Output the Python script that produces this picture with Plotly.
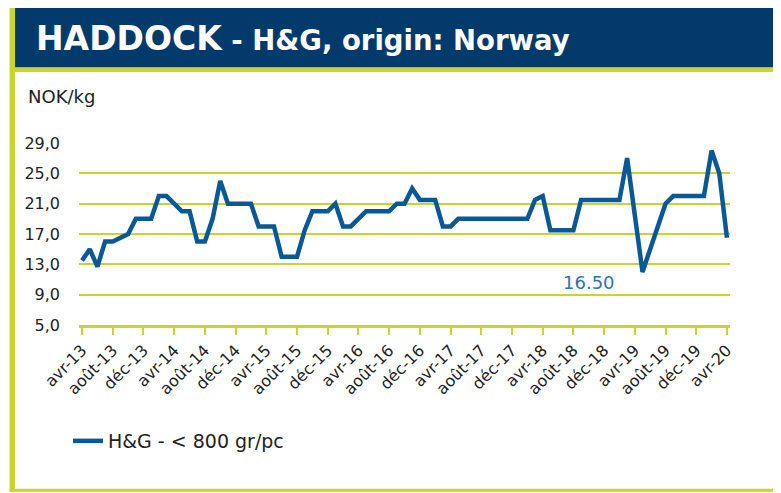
import plotly.graph_objects as go

# ---------------- data ----------------
MONTH_NAMES = ["janv", "févr", "mars", "avr", "mai", "juin",
               "juil", "août", "sept", "oct", "nov", "déc"]
START_MONTH = 3   # avr (index in MONTH_NAMES)
START_YEAR = 13
N_MONTHS = 85     # avr-13 .. avr-20

months = []
for i in range(N_MONTHS):
    mi = (START_MONTH + i) % 12
    yr = START_YEAR + (START_MONTH + i) // 12
    months.append(f"{MONTH_NAMES[mi]}-{yr:02d}")

price_hg = [
    13.5, 15.0, 12.7, 16.0, 16.0, 16.5, 17.0, 19.0, 19.0, 19.0,   # avr-13 .. janv-14
    22.0, 22.0, 21.0, 20.0, 20.0, 16.0, 16.0, 19.0, 24.0, 21.0,   # févr-14 .. nov-14
    21.0, 21.0, 21.0, 18.0, 18.0, 18.0, 14.0, 14.0, 14.0, 17.5,   # déc-14 .. sept-15
    20.0, 20.0, 20.0, 21.0, 18.0, 18.0, 19.0, 20.0, 20.0, 20.0,   # oct-15 .. juil-16
    20.0, 21.0, 21.0, 23.0, 21.5, 21.5, 21.5, 18.0, 18.0, 19.0,   # août-16 .. mai-17
    19.0, 19.0, 19.0, 19.0, 19.0, 19.0, 19.0, 19.0, 19.0, 21.5,   # juin-17 .. mars-18
    22.0, 17.5, 17.5, 17.5, 17.5, 21.5, 21.5, 21.5, 21.5, 21.5,   # avr-18 .. janv-19
    21.5, 27.0, 20.0, 12.0, 15.0, 18.0, 21.0, 22.0, 22.0, 22.0,   # févr-19 .. nov-19
    22.0, 22.0, 28.0, 25.0, 16.5,                                 # déc-19 .. avr-20
]

x_tick_labels = ["avr-13", "août-13", "déc-13", "avr-14", "août-14", "déc-14",
                 "avr-15", "août-15", "déc-15", "avr-16", "août-16", "déc-16",
                 "avr-17", "août-17", "déc-17", "avr-18", "août-18", "déc-18",
                 "avr-19", "août-19", "déc-19", "avr-20"]
y_tick_values = [5, 9, 13, 17, 21, 25, 29]
y_tick_labels = ["5,0", "9,0", "13,0", "17,0", "21,0", "25,0", "29,0"]

series_name = "H&G - < 800 gr/pc"
last_label = "16.50"
last_label_pos = ("oct-18", 10.6)

# ---------------- layout helpers ----------------
# The page body has an 8 px default margin, so the figure is drawn 8 px in
# from the window's top-left corner; all positions below are window pixels.
OFF = 8
WIN_W, WIN_H = 781, 493
W, H = WIN_W - OFF, WIN_H - OFF
X_FIRST, X_LAST = 82.5, 727.3            # px of first / last month
PAD_M = 0.4                              # months of padding so the line isn't clipped
PX_PER_M = (X_LAST - X_FIRST) / (N_MONTHS - 1)
L, R = X_FIRST - PAD_M * PX_PER_M, X_LAST + PAD_M * PX_PER_M
T, B = 142.7, 325.5


def px_x(p):
    return (p - L) / (R - L)


def px_y(p):
    return (B - p) / (B - T)


YELLOW = "#c8d52c"
NAVY = "#033a6c"
LINE = "#0a5996"
TXT = "#222222"
FONT = "DejaVu Sans"

fig = go.Figure()
fig.add_trace(go.Scatter(
    x=months, y=price_hg, mode="lines", name=series_name,
    line=dict(color=LINE, width=4.5), cliponaxis=False,
))

shapes = []


def rect(x0, y0, x1, y1, color):
    shapes.append(dict(type="rect", xref="paper", yref="paper",
                       x0=px_x(x0), x1=px_x(x1), y0=px_y(y0), y1=px_y(y1),
                       fillcolor=color, line=dict(width=0), layer="above"))


rect(15, 7, 781, 67, NAVY)          # header band
rect(10, 4.5, 781, 7, YELLOW)       # top border
rect(15, 66.5, 781, 71.5, YELLOW)   # header bottom rule
rect(10, 4.5, 15.5, 493, YELLOW)    # left border
rect(10, 490, 781, 493, YELLOW)     # bottom border

annotations = [
    dict(xref="paper", yref="paper", x=px_x(34), y=px_y(38),
         xanchor="left", yanchor="middle", showarrow=False,
         text="<b><span style='font-size:33px'>HADDOCK</span> - H&G, origin: Norway</b>",
         font=dict(family=FONT, size=27.5, color="white")),
    dict(xref="paper", yref="paper", x=px_x(26), y=px_y(96),
         xanchor="left", yanchor="middle", showarrow=False,
         text="NOK/kg", font=dict(family=FONT, size=18, color=TXT)),
    dict(xref="x", yref="y", x=last_label_pos[0], y=last_label_pos[1],
         xanchor="center", yanchor="middle", showarrow=False,
         text=last_label, font=dict(family=FONT, size=18, color="#2f72b5")),
]

fig.update_layout(
    width=W, height=H,
    margin=dict(l=L - OFF, r=WIN_W - R, t=T - OFF, b=WIN_H - B, pad=0,
                autoexpand=False),
    paper_bgcolor="white", plot_bgcolor="white",
    font=dict(family=FONT, color=TXT, size=16),
    shapes=shapes, annotations=annotations,
    showlegend=True,
    legend=dict(xref="container", yref="container",
                x=(68 - OFF) / W, y=1 - (441 - OFF) / H,
                xanchor="left", yanchor="middle",
                bgcolor="rgba(0,0,0,0)",
                font=dict(family=FONT, size=19, color=TXT)),
    xaxis=dict(
        type="category", categoryorder="array", categoryarray=months,
        range=[-PAD_M, N_MONTHS - 1 + PAD_M],
        tickmode="array", tickvals=x_tick_labels, ticktext=x_tick_labels,
        tickangle=-45, tickfont=dict(family=FONT, size=16, color=TXT),
        ticks="outside", ticklen=7, tickwidth=2, tickcolor=YELLOW,
        showline=True, linecolor=YELLOW, linewidth=2.5,
        showgrid=False, zeroline=False, automargin=False,
    ),
    yaxis=dict(
        range=[5, 29], tickmode="array", tickvals=y_tick_values,
        ticktext=y_tick_labels, tickfont=dict(family=FONT, size=16, color=TXT),
        showgrid=True, gridcolor=YELLOW, gridwidth=2,
        showline=False, zeroline=False, ticks="", ticklabelstandoff=18,
        automargin=False,
    ),
)

fig.write_html("out.html")
